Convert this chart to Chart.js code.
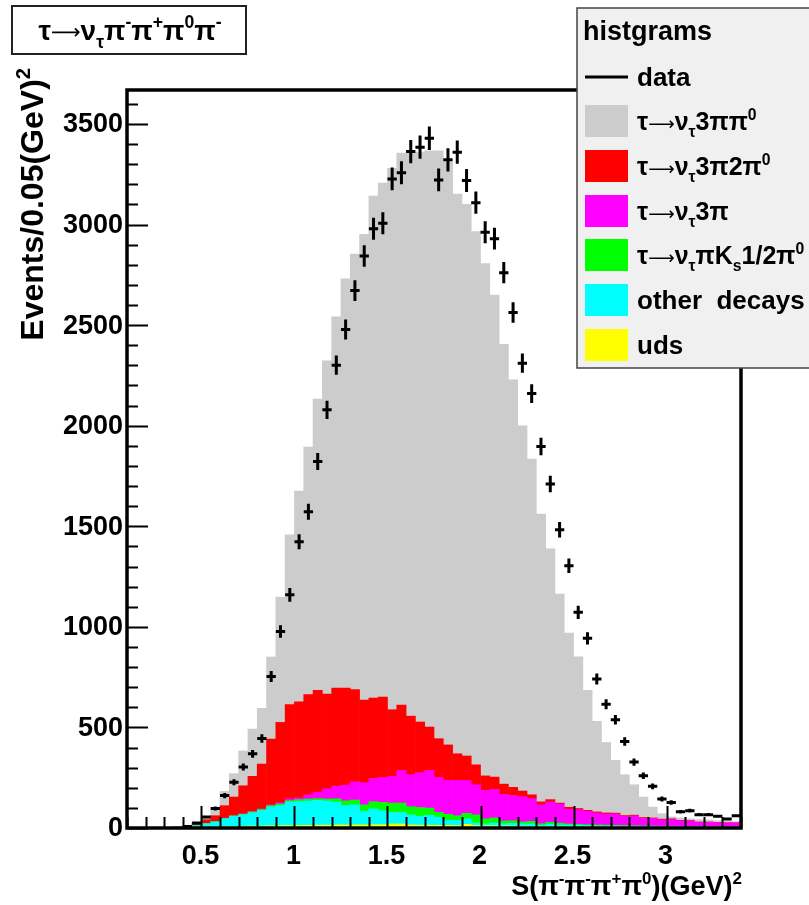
<!DOCTYPE html>
<html>
<head>
<meta charset="utf-8">
<script src="https://cdn.jsdelivr.net/npm/chart.js@4.4.1/dist/chart.umd.min.js"></script>
<style>
  html, body { margin: 0; padding: 0; background: #fff; }
  #wrap { width: 809px; height: 905px; position: relative; }
</style>
</head>
<body>
<div id="wrap"><canvas id="spectrum"></canvas></div>
<script>
// bin centres, 0.05 (GeV)^2 wide, covering 0.1 - 3.4
const binCenters = [
  0.125, 0.175, 0.225, 0.275, 0.325, 0.375, 0.425, 0.475, 0.525, 0.575,
  0.625, 0.675, 0.725, 0.775, 0.825, 0.875, 0.925, 0.975, 1.025, 1.075,
  1.125, 1.175, 1.225, 1.275, 1.325, 1.375, 1.425, 1.475, 1.525, 1.575,
  1.625, 1.675, 1.725, 1.775, 1.825, 1.875, 1.925, 1.975, 2.025, 2.075,
  2.125, 2.175, 2.225, 2.275, 2.325, 2.375, 2.425, 2.475, 2.525, 2.575,
  2.625, 2.675, 2.725, 2.775, 2.825, 2.875, 2.925, 2.975, 3.025, 3.075,
  3.125, 3.175, 3.225, 3.275, 3.325, 3.375
];
const binWidth = 0.05;

// MC components, bottom of the stack first
const uds = [
  2, 2, 2, 2, 2, 2, 2, 3, 5, 6, 7, 8, 9, 10, 10, 11, 12, 12, 13, 13,
  14, 14, 15, 15, 15, 15, 16, 16, 20, 20, 15, 14, 14, 13, 13, 12, 18, 12, 11, 11,
  10, 10, 9, 9, 8, 8, 7, 7, 6, 6, 6, 5, 5, 5, 5, 4, 4, 4, 4, 4,
  3, 3, 3, 3, 3, 3
];
const otherDecays = [
  0, 0, 0, 0, 0, 1, 2, 9, 16, 24, 39, 50, 57, 66, 77, 94, 100, 118, 118, 121,
  123, 120, 114, 97, 100, 68, 79, 70, 57, 57, 50, 44, 49, 40, 25, 26, 27, 13, 10, 14,
  11, 13, 11, 11, 5, 10, 8, 7, 7, 6, 5, 5, 5, 4, 4, 4, 4, 3, 3, 2,
  3, 3, 2, 2, 2, 2
];
const tauPiKs = [
  1, 1, 1, 1, 1, 1, 1, 1, 2, 2, 2, 3, 3, 4, 5, 6, 8, 6, 10, 10,
  9, 10, 16, 23, 24, 32, 36, 41, 47, 47, 41, 44, 36, 25, 30, 23, 28, 40, 25, 25,
  14, 13, 10, 13, 8, 10, 9, 6, 5, 4, 4, 4, 3, 3, 2, 2, 2, 2, 2, 2,
  2, 1, 2, 2, 1, 1
];
const tau3pi = [
  0, 0, 0, 0, 0, 0, 0, 0, 0, 0, 1, 1, 1, 2, 3, 4, 6, 9, 9, 21,
  32, 51, 63, 78, 91, 110, 115, 125, 133, 162, 159, 173, 187, 174, 169, 176, 164, 150, 141, 142,
  132, 126, 126, 113, 94, 102, 95, 74, 73, 67, 60, 56, 57, 46, 50, 38, 38, 32, 34, 28,
  27, 21, 21, 18, 19, 19
];
const tau3pi2pi0 = [
  0, 0, 0, 0, 0, 0, 1, 9, 18, 29, 62, 92, 140, 175, 223, 327, 399, 468, 477, 498,
  506, 471, 488, 483, 458, 411, 400, 399, 331, 325, 291, 252, 216, 192, 176, 132, 121, 99, 72, 61,
  51, 40, 28, 19, 15, 11, 5, 9, 6, 5, 5, 5, 4, 4, 3, 4, 2, 3, 3, 2,
  2, 2, 2, 2, 1, 1
];
const tau3pipi0 = [
  0, 0, 0, 0, 0, 1, 6, 6, 17, 39, 71, 116, 173, 235, 277, 408, 623, 845, 1048, 1231,
  1448, 1656, 1845, 2034, 2165, 2316, 2495, 2555, 2692, 2744, 2801, 2833, 2864, 2922, 2900, 2782, 2743, 2651, 2547, 2397,
  2187, 2026, 1815, 1669, 1431, 1247, 1039, 866, 754, 596, 450, 350, 262, 203, 151, 102, 54, 27, 9, 12,
  9, 12, 10, 9, 8, 6
];

// measured events per bin
const dataCounts = [
  0, 0, 0, 0, 0, 0, 8, 25, 55, 97, 161, 227, 303, 369, 445, 753, 977, 1159, 1423, 1572,
  1822, 2079, 2301, 2478, 2672, 2844, 2979, 3007, 3227, 3258, 3363, 3385, 3429, 3222, 3322, 3360, 3219, 3109, 2962, 2930,
  2761, 2563, 2311, 2160, 1897, 1710, 1483, 1304, 1072, 943, 741, 615, 538, 430, 328, 260, 207, 144, 127, 81,
  86, 66, 66, 58, 45, 61
];

const xTickValues = [0.5, 1, 1.5, 2, 2.5, 3];
const xTickLabels = ['0.5', '1', '1.5', '2', '2.5', '3'];
const yTickValues = [0, 500, 1000, 1500, 2000, 2500, 3000, 3500];
const yTickLabels = ['0', '500', '1000', '1500', '2000', '2500', '3000', '3500'];

// text runs: [string, 'n' normal | 'u' superscript | 'd' subscript | 'a' arrow]
const titleText = [['τ', 'n'], ['⟶', 'a'], ['ν', 'n'], ['τ', 'd'], ['π', 'n'], ['-', 'u'], ['π', 'n'], ['+', 'u'], ['π', 'n'], ['0', 'u'], ['π', 'n'], ['-', 'u']];
const xTitleText = [['S(π', 'n'], ['-', 'u'], ['π', 'n'], ['-', 'u'], ['π', 'n'], ['+', 'u'], ['π', 'n'], ['0', 'u'], [')(GeV)', 'n'], ['2', 'u']];
const yTitleText = [['Events/0.05(GeV)', 'n'], ['2', 'u']];
const legendHeader = 'histgrams';
const legendLabels = [
  [['data', 'n']],
  [['τ', 'n'], ['⟶', 'a'], ['ν', 'n'], ['τ', 'd'], ['3ππ', 'n'], ['0', 'u']],
  [['τ', 'n'], ['⟶', 'a'], ['ν', 'n'], ['τ', 'd'], ['3π2π', 'n'], ['0', 'u']],
  [['τ', 'n'], ['⟶', 'a'], ['ν', 'n'], ['τ', 'd'], ['3π', 'n']],
  [['τ', 'n'], ['⟶', 'a'], ['ν', 'n'], ['τ', 'd'], ['πK', 'n'], ['s', 'd'], ['1/2π', 'n'], ['0', 'u']],
  [['other  decays', 'n']],
  [['uds', 'n']]
];

const FONT = '"Liberation Sans", Arial, "DejaVu Sans", sans-serif';
const ARROW_FONT = '"DejaVu Sans", sans-serif';

const stackDefs = [
  { label: 'uds', data: uds, color: '#ffff00' },
  { label: 'other decays', data: otherDecays, color: '#00ffff' },
  { label: 'tau -> nu pi Ks 1/2pi0', data: tauPiKs, color: '#00ff00' },
  { label: 'tau -> nu 3pi', data: tau3pi, color: '#ff00ff' },
  { label: 'tau -> nu 3pi 2pi0', data: tau3pi2pi0, color: '#ff0000' },
  { label: 'tau -> nu 3pi pi0', data: tau3pipi0, color: '#cccccc' }
];
// legend order, top to bottom (after the data line)
const legendColors = ['#cccccc', '#ff0000', '#ff00ff', '#00ff00', '#00ffff', '#ffff00'];

function runFont(m, size) {
  if (m === 'a') return (size * 0.74) + 'px ' + ARROW_FONT;
  const s = m === 'n' ? size : size * 0.63;
  return 'bold ' + s + 'px ' + FONT;
}

function runWidth(ctx, runs, size) {
  let w = 0;
  runs.forEach(([t, m]) => {
    ctx.font = runFont(m, size);
    w += ctx.measureText(t).width;
  });
  return w;
}

function drawRuns(ctx, runs, x, y, size, align) {
  const w = runWidth(ctx, runs, size);
  let cx = align === 'right' ? x - w : align === 'center' ? x - w / 2 : x;
  ctx.textBaseline = 'alphabetic';
  ctx.textAlign = 'left';
  runs.forEach(([t, m]) => {
    const dy = m === 'u' ? -size * 0.42 : m === 'd' ? size * 0.28 : m === 'a' ? -size * 0.02 : 0;
    ctx.font = runFont(m, size);
    ctx.fillText(t, cx, y + dy);
    cx += ctx.measureText(t).width;
  });
}

const histPlugin = {
  id: 'histDecor',
  afterDatasetsDraw(chart) {
    const ctx = chart.ctx;
    const xs = chart.scales.x, ys = chart.scales.y;
    const area = chart.chartArea;
    ctx.save();

    // data: sqrt(N) vertical errors, bin-width horizontal bars
    ctx.strokeStyle = '#000';
    ctx.lineWidth = 3;
    dataCounts.forEach((n, i) => {
      if (n <= 0) return;
      const xc = xs.getPixelForValue(binCenters[i]);
      const x0 = xs.getPixelForValue(binCenters[i] - binWidth / 2);
      const x1 = xs.getPixelForValue(binCenters[i] + binWidth / 2);
      const yc = ys.getPixelForValue(n);
      const err = Math.sqrt(n);
      ctx.beginPath();
      ctx.moveTo(x0, yc); ctx.lineTo(x1, yc);
      ctx.moveTo(xc, ys.getPixelForValue(n + err)); ctx.lineTo(xc, ys.getPixelForValue(n - err));
      ctx.stroke();
    });

    // inward ticks
    ctx.lineWidth = 2;
    ctx.beginPath();
    for (let v = 0; v <= 3600; v += 100) {
      const py = Math.round(ys.getPixelForValue(v)) + 0.5;
      const len = v % 500 === 0 ? 21 : 11;
      ctx.moveTo(area.left, py); ctx.lineTo(area.left + len, py);
    }
    for (let k = 1; k <= 34; k++) {
      const v = k / 10;
      const px = Math.round(xs.getPixelForValue(v)) + 0.5;
      const len = k % 5 === 0 ? 22 : 11;
      ctx.moveTo(px, area.bottom); ctx.lineTo(px, area.bottom - len);
    }
    ctx.stroke();

    // frame
    ctx.lineWidth = 3.5;
    ctx.strokeRect(area.left, area.top, area.right - area.left, area.bottom - area.top);

    // tick labels
    ctx.fillStyle = '#000';
    ctx.font = 'bold 27px ' + FONT;
    ctx.textAlign = 'right';
    ctx.textBaseline = 'middle';
    yTickValues.forEach((v, i) => ctx.fillText(yTickLabels[i], 123, ys.getPixelForValue(v) + 1));
    ctx.textAlign = 'center';
    xTickValues.forEach((v, i) => ctx.fillText(xTickLabels[i], xs.getPixelForValue(v) - 1, 857));

    // axis titles
    drawRuns(ctx, xTitleText, 742, 895, 27, 'right');
    ctx.save();
    ctx.translate(43, 68);
    ctx.rotate(-Math.PI / 2);
    drawRuns(ctx, yTitleText, 0, 0, 32, 'right');
    ctx.restore();

    // title box
    ctx.fillStyle = '#fff';
    ctx.fillRect(12, 6, 234, 48);
    ctx.strokeStyle = '#222';
    ctx.lineWidth = 2;
    ctx.strokeRect(12, 6, 234, 48);
    ctx.fillStyle = '#000';
    drawRuns(ctx, titleText, 130, 40, 28, 'center');

    // legend box
    ctx.fillStyle = '#f0f0f0';
    ctx.fillRect(577, 8, 240, 360);
    ctx.strokeStyle = '#444';
    ctx.lineWidth = 1.5;
    ctx.strokeRect(577, 8, 240, 360);
    ctx.fillStyle = '#000';
    ctx.font = 'bold 27px ' + FONT;
    ctx.textAlign = 'left';
    ctx.textBaseline = 'alphabetic';
    ctx.fillText(legendHeader, 583, 40);
    const rowY = [77, 121, 166, 211, 255, 300, 345];
    legendLabels.forEach((runs, i) => {
      const cy = rowY[i];
      if (i === 0) {
        ctx.strokeStyle = '#000';
        ctx.lineWidth = 3;
        ctx.beginPath();
        ctx.moveTo(585, cy); ctx.lineTo(628, cy);
        ctx.stroke();
      } else {
        ctx.fillStyle = legendColors[i - 1];
        ctx.fillRect(585, cy - 16, 43, 32);
      }
      ctx.fillStyle = '#000';
      const hasArrow = runs.some(r => r[1] === 'a');
      drawRuns(ctx, runs, 637, cy + 9, hasArrow ? 25 : 26, 'left');
    });

    ctx.restore();
  }
};

const datasets = stackDefs.map(s => ({
  type: 'bar',
  label: s.label,
  data: s.data.map((v, i) => ({ x: binCenters[i], y: v })),
  backgroundColor: s.color,
  borderWidth: 0,
  categoryPercentage: 1,
  barPercentage: 1,
  stack: 'mc'
}));
datasets.push({
  type: 'line',
  label: 'data',
  data: dataCounts.map((v, i) => ({ x: binCenters[i], y: v })),
  showLine: false,
  pointRadius: 0,
  stack: 'data'
});

new Chart(document.getElementById('spectrum'), {
  data: { datasets },
  options: {
    responsive: true,
    maintainAspectRatio: false,
    animation: false,
    devicePixelRatio: 1,
    layout: { padding: { left: 127, top: 90, right: 68, bottom: 77 } },
    plugins: { legend: { display: false }, tooltip: { enabled: false } },
    scales: {
      x: { type: 'linear', min: 0.1, max: 3.4, stacked: true, offset: false, display: false },
      y: { min: 0, max: 3669, stacked: true, display: false }
    }
  },
  plugins: [histPlugin]
});
</script>
</body>
</html>
